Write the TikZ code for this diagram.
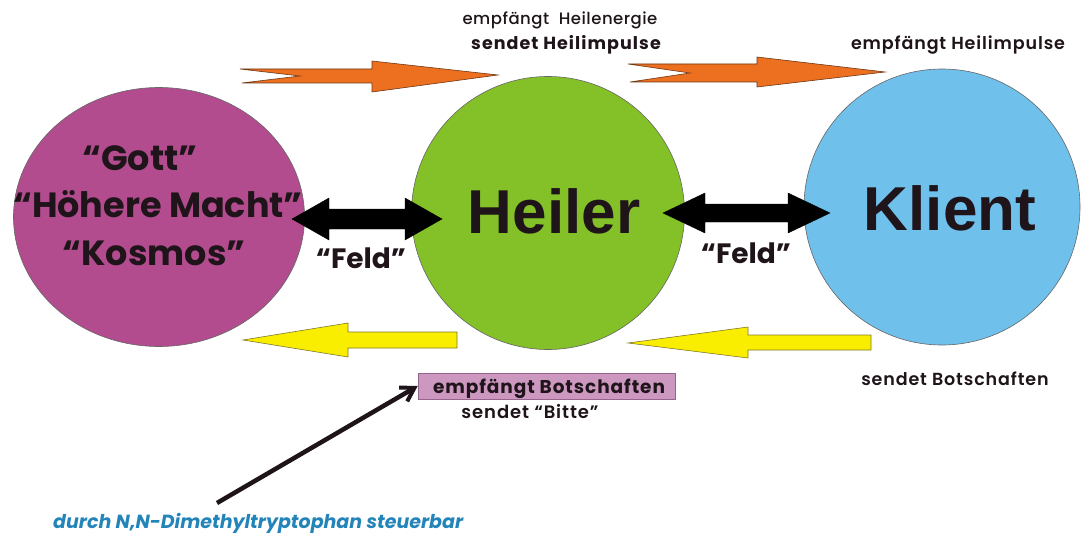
\documentclass[tikz,border=0pt]{standalone}
\usepackage{fontspec}
\setmainfont{Poppins}
\newfontfamily\pmed{Poppins Medium}
\newfontfamily\psemi{Poppins SemiBold}
\newfontfamily\heavy{Liberation Sans}
\usetikzlibrary{shapes.geometric,arrows.meta}
\definecolor{gottc}{RGB}{178,76,142}
\definecolor{heilc}{RGB}{132,192,40}
\definecolor{klientc}{RGB}{112,192,236}
\definecolor{orangec}{RGB}{236,112,32}
\definecolor{orangeb}{RGB}{110,55,20}
\definecolor{yellowc}{RGB}{250,238,0}
\definecolor{yellowb}{RGB}{130,120,40}
\definecolor{boxc}{RGB}{204,152,192}
\definecolor{boxb}{RGB}{150,100,140}
\definecolor{bluetxt}{RGB}{34,132,184}
\definecolor{ink}{RGB}{30,20,25}
\newcommand{\fs}[2]{\fontsize{#1}{#1}\selectfont\addfontfeature{LetterSpace=#2}}
\begin{document}
\begin{tikzpicture}[x=1pt,y=-1pt,
  blob/.style={draw=black!60,line width=0.6pt,inner sep=0pt},
  bigtxt/.style={anchor=base,inner sep=0pt,text=ink,font=\fontsize{35}{35}\selectfont\bfseries},
  nametxt/.style={anchor=base,inner sep=0pt,text=ink,font=\heavy\fontsize{62}{62}\selectfont\bfseries},
  feldtxt/.style={anchor=base,inner sep=0pt,text=ink,font=\fontsize{28}{28}\selectfont\bfseries},
  smalltxt/.style={anchor=base,inner sep=0pt,text=ink},
  orangearrow/.style={fill=orangec,draw=orangeb,line width=0.6pt,line join=miter},
  yellowarrow/.style={fill=yellowc,draw=yellowb,line width=0.6pt,line join=miter},
  blackarrow/.style={fill=black,draw=black,line width=0.4pt,line join=miter}]
\useasboundingbox (0,0) rectangle (1082,535);
\fill[white] (0,0) rectangle (1082,535);

% circles
\node[blob,ellipse,fill=gottc,minimum width=291pt,minimum height=259pt] (gott) at (159,217) {};
\node[blob,circle,fill=heilc,minimum size=273pt] (heiler) at (548,213) {};
\node[blob,circle,fill=klientc,minimum size=276pt] (klient) at (942,207) {};

% circle texts
\node[bigtxt] (tgott) at (140,170) {“Gott”};
\node[bigtxt] (thoeh) at (158,217) {“Höhere Macht”};
\node[bigtxt] (tkos) at (154,265) {“Kosmos”};
\node[nametxt] (theiler) at (554,233) {Heiler};
\node[nametxt] (tklient) at (950,230) {Klient};

% Feld labels
\node[feldtxt] (feld1) at (361,268) {“Feld”};
\node[feldtxt] (feld2) at (746,263) {“Feld”};

% double arrows
\draw[blackarrow] (292,219) -- (329,198) -- (329,209) -- (405,209) -- (405,198) -- (442,219)
  -- (405,240) -- (405,229) -- (329,229) -- (329,240) -- cycle;
\draw[blackarrow] (663,213) -- (705,193) -- (705,204) -- (788,204) -- (788,193) -- (830,213)
  -- (788,233) -- (788,222) -- (705,222) -- (705,233) -- cycle;

% orange arrows
\draw[orangearrow] (240,69) -- (300,76) -- (242,83) -- (372,83) -- (372,92) -- (498,75)
  -- (372,61) -- (372,69) -- cycle;
\draw[orangearrow] (628,64) -- (690,73) -- (630,82) -- (757,82) -- (757,87) -- (885,72)
  -- (757,57) -- (757,64) -- cycle;

% yellow arrows
\draw[yellowarrow] (243,340) -- (348,323) -- (348,332) -- (457,332) -- (457,348)
  -- (348,348) -- (348,357) -- cycle;
\draw[yellowarrow] (628,343) -- (748,327) -- (748,335) -- (871,335) -- (871,350)
  -- (748,350) -- (748,358) -- cycle;

% top labels
\node[smalltxt,font=\pmed\fs{16.5}{3}] (l1) at (560,25) {empfängt\ \ Heilenergie};
\node[smalltxt,font=\fs{17.5}{6}\bfseries] (l2) at (566,50) {sendet Heilimpulse};
\node[smalltxt,font=\psemi\fs{17.5}{5}] (l3) at (958,50) {empfängt Heilimpulse};
\node[smalltxt,font=\psemi\fs{17.5}{5}] (l4) at (955,385) {sendet Botschaften};

% pink box
\node[draw=boxb,fill=boxc,line width=0.6pt,minimum width=257pt,minimum height=26pt,inner sep=0pt] (box) at (546.5,386) {};
\node[smalltxt,font=\fs{18.5}{5}\bfseries] (boxt) at (549,393) {empfängt Botschaften};
\node[smalltxt,font=\psemi\fs{18}{5}] (bitte) at (530,418) {sendet “Bitte”};

% black arrow
\coordinate (tail) at (217,503);
\draw[line width=4.5pt,ink,-{Straight Barb[length=13pt,width=16pt,line width=4pt]}] (tail) -- (box.west);

% bottom blue text
\node[anchor=base west,inner sep=0pt,text=bluetxt,font=\fontsize{19}{19}\selectfont\bfseries\itshape] (dmt) at (53,528) {durch N,N-Dimethyltryptophan steuerbar};
\end{tikzpicture}
\end{document}
